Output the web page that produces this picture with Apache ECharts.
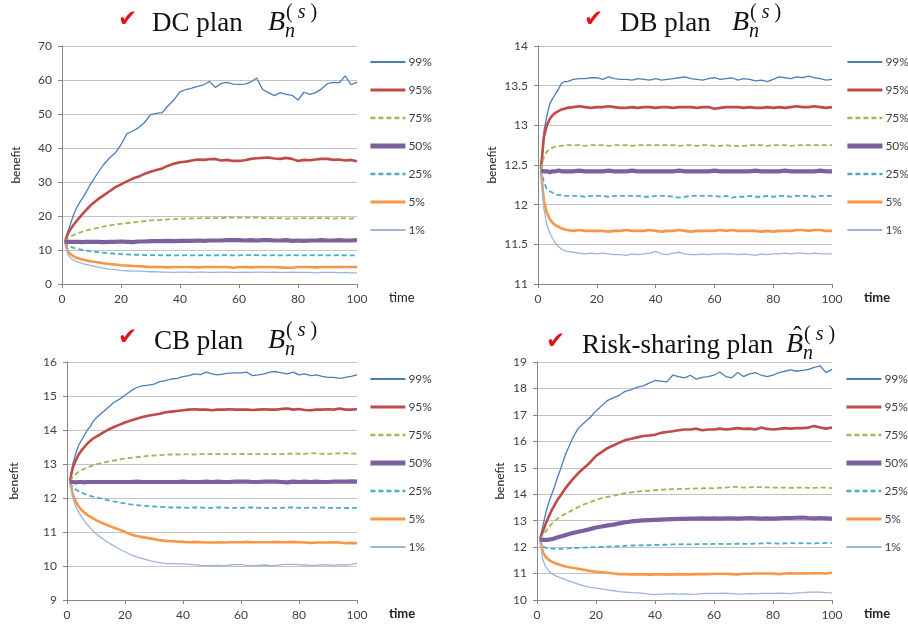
<!DOCTYPE html>
<html>
<head>
<meta charset="utf-8">
<script src="https://cdn.jsdelivr.net/npm/echarts@6/dist/echarts.min.js"></script>
<style>
  html, body { margin: 0; padding: 0; background: #fff; }
  #chart { width: 908px; height: 628px; }
</style>
</head>
<body>
<div id="chart"></div>
<script>
// time steps (yearly up to 10, then every 2)
const time = [1,2,3,4,5,6,7,8,9,10,12,14,16,18,20,22,24,26,28,30,32,34,36,38,40,42,44,46,48,50,
  52,54,56,58,60,62,64,66,68,70,72,74,76,78,80,82,84,86,88,90,92,94,96,98,100];

const pctNames = ["99%", "95%", "75%", "50%", "25%", "5%", "1%"];

// DC plan
const dc99 = [12.4,15.5,18,20.5,22.5,24,25.3,26.8,28.3,29.8,
  32.5,35,37,38.5,41,44.2,45,46,47.5,49.8,
  50.2,50.4,52.5,54.2,56.5,57.2,57.6,58.1,58.6,59.6,
  57.8,59,59.3,58.8,58.7,58.8,59.4,60.6,57.2,56.3,
  55.4,56.3,55.8,55.5,54.1,56.4,55.8,56.3,57.4,58.9,
  59.3,59.2,61.2,58.6,59.4];
const dc95 = [12.4,14.8,16.3,17.5,18.6,19.6,20.6,21.6,22.5,23.4,
  24.8,26,27.2,28.4,29.3,30.2,31,31.6,32.4,33,
  33.5,34,34.8,35.4,35.8,36,36.3,36.6,36.5,36.7,
  36.8,36.3,36.5,36.2,36.2,36.4,36.8,37,37.1,37.2,
  36.9,36.8,37.1,36.8,36.2,36.5,36.4,36.6,36.8,36.8,
  36.5,36.6,36.3,36.5,36.1];
const dc75 = [12.6,13.5,14,14.4,14.8,15.1,15.4,15.7,15.9,16.1,
  16.5,16.9,17.2,17.5,17.7,17.9,18.1,18.3,18.5,18.7,
  18.8,18.9,19,19.1,19.2,19.2,19.3,19.3,19.4,19.4,
  19.4,19.4,19.5,19.5,19.5,19.5,19.5,19.5,19.4,19.4,
  19.3,19.4,19.2,19.3,19.3,19.4,19.3,19.4,19.4,19.4,
  19.2,19.4,19.3,19.2,19.5];
const dc50 = [12.5,12.4,12.4,12.4,12.4,12.4,12.3,12.4,12.4,12.4,
  12.4,12.3,12.4,12.4,12.5,12.4,12.3,12.5,12.5,12.6,
  12.6,12.6,12.7,12.6,12.7,12.7,12.7,12.8,12.7,12.8,
  12.8,12.8,12.9,12.9,12.9,12.8,12.9,12.8,12.9,12.9,
  12.8,12.8,12.9,12.7,12.8,12.7,12.8,12.8,12.9,12.8,
  12.8,12.9,12.8,12.8,12.9];
const dc25 = [12.4,11.2,10.9,10.6,10.4,10.2,10,9.9,9.7,9.6,
  9.4,9.2,9,8.9,8.8,8.7,8.6,8.6,8.5,8.5,
  8.5,8.4,8.5,8.4,8.4,8.5,8.4,8.4,8.5,8.4,
  8.4,8.5,8.5,8.4,8.4,8.5,8.5,8.5,8.4,8.4,
  8.5,8.4,8.4,8.5,8.4,8.4,8.5,8.4,8.5,8.4,
  8.4,8.5,8.4,8.4,8.4];
const dc5 = [12.4,9.6,8.7,8.1,7.7,7.4,7.2,7,6.8,6.6,
  6.4,6.1,5.9,5.7,5.5,5.4,5.3,5.2,5.1,5,
  5,5,4.9,5,5,5,5,4.9,5,5,
  5,5,5,4.8,5,5,4.9,5,5,5,
  5,4.9,4.8,4.8,5,5,5,4.9,5,5,
  5,5,5,5,5];
const dc1 = [12.4,8.6,7.6,7,6.6,6.3,6,5.8,5.6,5.4,
  5,4.7,4.4,4.2,4,3.9,3.8,3.8,3.7,3.6,
  3.6,3.5,3.5,3.4,3.5,3.5,3.4,3.5,3.5,3.4,
  3.4,3.5,3.5,3.4,3.4,3.5,3.4,3.5,3.5,3.4,
  3.5,3.4,3.4,3.5,3.4,3.4,3.4,3.3,3.4,3.4,
  3.4,3.3,3.4,3.3,3.3];

// DB plan
const db99 = [12.45,12.92,13.12,13.27,13.34,13.4,13.46,13.53,13.55,13.55,
  13.58,13.59,13.59,13.6,13.6,13.58,13.61,13.59,13.58,13.58,
  13.57,13.59,13.58,13.57,13.59,13.57,13.58,13.59,13.6,13.61,
  13.59,13.58,13.57,13.59,13.6,13.58,13.59,13.6,13.57,13.59,
  13.58,13.56,13.57,13.55,13.58,13.61,13.6,13.59,13.61,13.6,
  13.62,13.6,13.59,13.57,13.58];
const db95 = [12.45,12.85,13,13.08,13.13,13.16,13.18,13.2,13.21,13.22,
  13.23,13.24,13.23,13.22,13.23,13.23,13.24,13.23,13.22,13.22,
  13.23,13.22,13.23,13.23,13.22,13.23,13.23,13.22,13.23,13.23,
  13.23,13.22,13.23,13.23,13.21,13.22,13.23,13.23,13.23,13.22,
  13.23,13.22,13.22,13.23,13.22,13.23,13.22,13.23,13.24,13.23,
  13.23,13.24,13.23,13.22,13.23];
const db75 = [12.45,12.6,12.67,12.7,12.72,12.73,12.74,12.74,12.75,12.75,
  12.75,12.75,12.74,12.75,12.75,12.75,12.74,12.75,12.75,12.75,
  12.74,12.75,12.75,12.75,12.75,12.75,12.75,12.75,12.74,12.75,
  12.75,12.74,12.75,12.75,12.74,12.74,12.75,12.74,12.74,12.74,
  12.75,12.75,12.75,12.74,12.75,12.75,12.75,12.74,12.75,12.75,
  12.75,12.75,12.75,12.75,12.75];
const db50 = [12.43,12.42,12.42,12.41,12.42,12.42,12.43,12.42,12.42,12.42,
  12.42,12.43,12.42,12.42,12.42,12.42,12.43,12.42,12.42,12.42,
  12.43,12.42,12.42,12.42,12.42,12.42,12.42,12.42,12.43,12.42,
  12.42,12.42,12.42,12.42,12.43,12.42,12.42,12.42,12.42,12.42,
  12.42,12.43,12.42,12.42,12.42,12.42,12.43,12.42,12.42,12.42,
  12.42,12.42,12.43,12.42,12.42];
const db25 = [12.45,12.28,12.2,12.17,12.15,12.13,12.12,12.12,12.11,12.11,
  12.11,12.11,12.1,12.11,12.11,12.11,12.1,12.11,12.11,12.11,
  12.11,12.11,12.1,12.1,12.11,12.11,12.11,12.1,12.09,12.1,
  12.11,12.11,12.11,12.11,12.11,12.1,12.11,12.09,12.1,12.1,
  12.11,12.1,12.1,12.11,12.1,12.11,12.11,12.1,12.11,12.11,
  12.11,12.1,12.11,12.11,12.11];
const db5 = [12.42,12.05,11.9,11.82,11.77,11.74,11.72,11.7,11.69,11.68,
  11.67,11.68,11.67,11.67,11.67,11.67,11.66,11.67,11.67,11.68,
  11.67,11.67,11.67,11.68,11.67,11.66,11.67,11.67,11.68,11.67,
  11.66,11.67,11.67,11.67,11.67,11.68,11.67,11.68,11.67,11.67,
  11.67,11.67,11.66,11.67,11.66,11.67,11.67,11.67,11.68,11.68,
  11.67,11.68,11.68,11.67,11.67];
const db1 = [12.42,11.95,11.75,11.64,11.57,11.51,11.47,11.44,11.42,11.41,
  11.4,11.39,11.38,11.39,11.38,11.39,11.38,11.37,11.37,11.36,
  11.38,11.37,11.38,11.39,11.41,11.38,11.37,11.39,11.4,11.38,
  11.37,11.37,11.38,11.37,11.38,11.38,11.38,11.38,11.37,11.38,
  11.37,11.36,11.38,11.37,11.38,11.38,11.39,11.38,11.39,11.39,
  11.38,11.39,11.38,11.38,11.38];

// CB plan
const cb99 = [12.5,13,13.3,13.55,13.7,13.85,14,14.1,14.25,14.35,
  14.5,14.65,14.8,14.9,15.02,15.15,15.25,15.3,15.32,15.35,
  15.42,15.45,15.5,15.52,15.57,15.6,15.65,15.63,15.7,15.65,
  15.62,15.65,15.67,15.68,15.68,15.7,15.6,15.62,15.65,15.7,
  15.72,15.68,15.65,15.7,15.62,15.65,15.6,15.62,15.58,15.55,
  15.55,15.52,15.55,15.58,15.62];
const cb95 = [12.5,12.9,13.1,13.28,13.4,13.5,13.6,13.68,13.75,13.8,
  13.9,14,14.08,14.15,14.22,14.28,14.33,14.38,14.42,14.45,
  14.48,14.52,14.54,14.56,14.58,14.6,14.61,14.6,14.6,14.58,
  14.6,14.6,14.61,14.6,14.6,14.6,14.59,14.6,14.61,14.6,
  14.6,14.62,14.63,14.6,14.62,14.59,14.58,14.6,14.6,14.61,
  14.6,14.63,14.6,14.6,14.61];
const cb75 = [12.5,12.62,12.7,12.77,12.82,12.86,12.9,12.93,12.96,12.99,
  13.03,13.07,13.1,13.13,13.16,13.18,13.2,13.22,13.24,13.25,
  13.26,13.27,13.28,13.28,13.28,13.29,13.28,13.29,13.29,13.3,
  13.29,13.3,13.3,13.3,13.3,13.29,13.29,13.3,13.3,13.29,
  13.3,13.3,13.3,13.31,13.3,13.3,13.32,13.31,13.3,13.3,
  13.31,13.31,13.32,13.31,13.3];
const cb50 = [12.48,12.47,12.46,12.47,12.47,12.46,12.47,12.47,12.47,12.47,
  12.47,12.47,12.47,12.47,12.47,12.47,12.48,12.47,12.47,12.47,
  12.47,12.47,12.47,12.47,12.48,12.47,12.47,12.47,12.48,12.47,
  12.48,12.47,12.47,12.48,12.48,12.48,12.47,12.47,12.48,12.48,
  12.48,12.47,12.46,12.48,12.47,12.48,12.47,12.48,12.47,12.47,
  12.48,12.48,12.48,12.49,12.48];
const cb25 = [12.45,12.32,12.25,12.2,12.16,12.12,12.09,12.06,12.04,12.02,
  11.98,11.94,11.9,11.87,11.84,11.81,11.79,11.77,11.76,11.75,
  11.74,11.73,11.72,11.72,11.72,11.71,11.72,11.72,11.71,11.71,
  11.72,11.72,11.71,11.71,11.71,11.72,11.72,11.71,11.71,11.7,
  11.71,11.71,11.72,11.72,11.71,11.71,11.72,11.71,11.72,11.71,
  11.71,11.71,11.7,11.71,11.71];
const cb5 = [12.5,12.1,11.9,11.75,11.65,11.57,11.5,11.45,11.4,11.35,
  11.27,11.2,11.13,11.07,11,10.93,10.88,10.85,10.82,10.79,
  10.76,10.74,10.73,10.72,10.71,10.7,10.71,10.7,10.69,10.69,
  10.7,10.69,10.7,10.7,10.7,10.71,10.7,10.7,10.7,10.7,
  10.71,10.7,10.7,10.71,10.7,10.69,10.68,10.69,10.69,10.69,
  10.7,10.69,10.67,10.68,10.67];
const cb1 = [12.5,12,11.75,11.58,11.45,11.33,11.22,11.12,11.03,10.95,
  10.82,10.7,10.6,10.5,10.42,10.33,10.27,10.22,10.17,10.13,
  10.1,10.07,10.07,10.06,10.06,10.05,10.04,10.02,10.01,10.01,
  10.02,10,10.03,10.04,10.04,10.02,10.01,10.02,10.03,10.01,
  10.02,10.04,10.05,10.05,10.04,10.03,10.02,10.02,10.04,10.03,
  10.02,10.04,10.03,10.05,10.08];

// Risk-sharing plan
const rs99 = [12.3,12.8,13.3,13.7,14,14.3,14.65,14.95,15.3,15.6,
  16.1,16.5,16.7,16.9,17.15,17.35,17.55,17.65,17.75,17.9,
  17.95,18.05,18.1,18.2,18.3,18.28,18.25,18.5,18.45,18.4,
  18.5,18.35,18.42,18.45,18.5,18.62,18.45,18.4,18.6,18.45,
  18.55,18.6,18.5,18.45,18.5,18.6,18.65,18.7,18.65,18.68,
  18.72,18.8,18.85,18.6,18.72];
const rs95 = [12.3,12.6,12.9,13.15,13.4,13.6,13.8,13.95,14.12,14.28,
  14.55,14.8,15,15.2,15.45,15.6,15.75,15.85,15.95,16.05,
  16.1,16.15,16.2,16.22,16.25,16.32,16.35,16.38,16.42,16.45,
  16.45,16.48,16.42,16.45,16.45,16.48,16.45,16.47,16.5,16.47,
  16.48,16.45,16.52,16.47,16.45,16.47,16.5,16.48,16.5,16.5,
  16.52,16.58,16.52,16.48,16.52];
const rs75 = [12.3,12.45,12.6,12.75,12.88,12.98,13.08,13.15,13.22,13.28,
  13.4,13.52,13.62,13.7,13.78,13.85,13.9,13.95,14,14.04,
  14.07,14.1,14.12,14.13,14.15,14.17,14.18,14.19,14.2,14.2,
  14.21,14.22,14.22,14.23,14.22,14.24,14.25,14.28,14.27,14.25,
  14.26,14.27,14.27,14.26,14.25,14.25,14.25,14.24,14.25,14.25,
  14.24,14.24,14.25,14.25,14.23];
const rs50 = [12.3,12.27,12.27,12.28,12.3,12.33,12.37,12.4,12.43,12.47,
  12.53,12.58,12.63,12.68,12.74,12.78,12.82,12.85,12.9,12.94,
  12.97,12.99,13.01,13.02,13.03,13.04,13.05,13.06,13.07,13.07,
  13.08,13.08,13.09,13.08,13.09,13.08,13.09,13.09,13.08,13.09,
  13.1,13.09,13.08,13.09,13.08,13.09,13.1,13.1,13.11,13.12,
  13.1,13.09,13.1,13.09,13.08];
const rs25 = [12.3,12.02,11.97,11.95,11.94,11.94,11.93,11.93,11.94,11.95,
  11.96,11.97,11.98,11.99,12,12.01,12.02,12.03,12.04,12.05,
  12.06,12.06,12.07,12.07,12.08,12.09,12.09,12.1,12.1,12.11,
  12.1,12.11,12.12,12.11,12.12,12.12,12.11,12.12,12.13,12.12,
  12.12,12.13,12.14,12.15,12.14,12.13,12.14,12.15,12.14,12.15,
  12.14,12.14,12.15,12.16,12.15];
const rs5 = [12.3,11.8,11.62,11.52,11.45,11.4,11.36,11.32,11.29,11.26,
  11.22,11.18,11.14,11.1,11.07,11.05,11.03,11,10.98,10.98,
  10.97,10.97,10.97,10.96,10.97,10.97,10.96,10.97,10.98,10.97,
  10.97,10.98,10.98,10.98,10.99,10.99,10.99,10.98,10.97,10.99,
  10.99,11,11,11,11,10.98,11,11.01,11,11.01,
  11,11.01,11.01,11,11.03];
const rs1 = [12.3,11.5,11.25,11.1,11,10.93,10.88,10.84,10.8,10.75,
  10.68,10.6,10.53,10.48,10.45,10.42,10.38,10.35,10.32,10.3,
  10.28,10.27,10.25,10.22,10.2,10.22,10.22,10.24,10.22,10.23,
  10.21,10.22,10.24,10.25,10.25,10.25,10.26,10.24,10.22,10.22,
  10.24,10.23,10.25,10.25,10.25,10.26,10.25,10.24,10.27,10.28,
  10.3,10.3,10.3,10.28,10.27];

const FONT = 'Lato, "Liberation Sans", sans-serif';
const SERIF = '"Liberation Serif", "DejaVu Serif", serif';

// one style per percentile
const styles = [
  { color: "#4a7ebb", width: 1.3, type: "solid" },
  { color: "#be4b48", width: 2.6, type: "solid" },
  { color: "#98b954", width: 1.8, type: [5, 3] },
  { color: "#7d60a0", width: 4.2, type: "solid" },
  { color: "#4bacc6", width: 1.8, type: [5, 3] },
  { color: "#f79646", width: 2.6, type: "solid" },
  { color: "#9db4da", width: 1.3, type: "solid" }
];

const panels = [
  { label: "DC plan", values: [dc99, dc95, dc75, dc50, dc25, dc5, dc1],
    grid: { left: 62, top: 46, width: 295, height: 238 },
    y: [0, 70, 10], nameGap: 40, boldTime: false,
    legend: [368, 56], head: [118, 152, 268, 31], hat: false },
  { label: "DB plan", values: [db99, db95, db75, db50, db25, db5, db1],
    grid: { left: 538, top: 46, width: 294, height: 238 },
    y: [11, 14, 0.5], nameGap: 40, boldTime: true,
    legend: [845, 56], head: [584, 620, 732, 31], hat: false },
  { label: "CB plan", values: [cb99, cb95, cb75, cb50, cb25, cb5, cb1],
    grid: { left: 67, top: 362, width: 290, height: 238 },
    y: [9, 16, 1], nameGap: 47, boldTime: true,
    legend: [368, 373], head: [118, 154, 268, 349], hat: false },
  { label: "Risk-sharing plan", values: [rs99, rs95, rs75, rs50, rs25, rs5, rs1],
    grid: { left: 537, top: 362, width: 295, height: 238 },
    y: [10, 19, 1], nameGap: 31, boldTime: true,
    legend: [844, 373], head: [546, 582, 786, 353], hat: true }
];

function heading(p) {
  const [cx, tx, bx, base] = p.head;
  const els = [
    { type: "text", x: cx, y: base - 11,
      style: { text: "\u2714", font: '23px "DejaVu Sans"', fill: "#e3141c", textVerticalAlign: "middle" } },
    { type: "text", x: tx, y: base + 6,
      style: { text: p.label, font: "27px " + SERIF, fill: "#111", textVerticalAlign: "bottom" } },
    { type: "text", x: bx, y: base + 6,
      style: { text: "B", font: "italic 28px " + SERIF, fill: "#111", textVerticalAlign: "bottom" } },
    { type: "text", x: bx + 17, y: base + 11,
      style: { text: "n", font: "italic 20px " + SERIF, fill: "#111", textVerticalAlign: "bottom" } },
    { type: "text", x: bx + 18, y: base - 8,
      style: { text: "( {i|s} )", font: "20px " + SERIF, fill: "#111", textVerticalAlign: "bottom",
        rich: { i: { fontStyle: "italic", fontSize: 20, fontFamily: SERIF, fill: "#111" } } } }
  ];
  if (p.hat) {
    els.push({ type: "text", x: bx + 7, y: base - 3,
      style: { text: "\u02C6", font: "26px " + SERIF, fill: "#111", textVerticalAlign: "bottom" } });
  }
  return els;
}

const series = [];
panels.forEach((p, i) => {
  p.values.forEach((vals, k) => {
    series.push({
      type: "line",
      name: pctNames[k],
      xAxisIndex: i,
      yAxisIndex: i,
      symbol: "none",
      showSymbol: false,
      data: time.map((t, j) => [t, vals[j]]),
      lineStyle: styles[k],
      itemStyle: { color: styles[k].color },
      z: 2 + (k === 3 ? 1 : 0)
    });
  });
});

const chart = echarts.init(document.getElementById("chart"), null, { renderer: "canvas" });
chart.setOption({
  animation: false,
  backgroundColor: "#fff",
  textStyle: { fontFamily: FONT },
  grid: panels.map(p => p.grid),
  xAxis: panels.map((p, i) => ({
    type: "value",
    gridIndex: i,
    min: 0,
    max: 100,
    interval: 20,
    name: "time",
    nameLocation: "end",
    nameGap: 32,
    nameTextStyle: {
      fontSize: 13, color: "#222", fontWeight: p.boldTime ? "bold" : "normal",
      verticalAlign: "top", padding: [7, 0, 0, 0]
    },
    axisLine: { lineStyle: { color: "#868686" } },
    axisTick: { length: 4, lineStyle: { color: "#868686" } },
    axisLabel: { fontSize: 12, color: "#404040", margin: 9 },
    splitLine: { show: false }
  })),
  yAxis: panels.map((p, i) => ({
    type: "value",
    gridIndex: i,
    min: p.y[0],
    max: p.y[1],
    interval: p.y[2],
    name: "benefit",
    nameLocation: "middle",
    nameGap: p.nameGap,
    nameTextStyle: { fontSize: 12, color: "#222" },
    axisLine: { show: true, lineStyle: { color: "#868686" } },
    axisTick: { show: true, length: 4, lineStyle: { color: "#868686" } },
    axisLabel: { fontSize: 12, color: "#404040", margin: 10 },
    splitLine: { lineStyle: { color: "#c4c4c4" } }
  })),
  legend: panels.map(p => ({
    left: p.legend[0],
    top: p.legend[1],
    orient: "vertical",
    padding: 0,
    itemWidth: 35,
    itemHeight: 14,
    itemGap: 16,
    selectedMode: false,
    itemStyle: { opacity: 0 },
    data: pctNames.map((n, k) => ({
      name: n,
      lineStyle: { width: styles[k].width + 0.6, type: styles[k].type, color: styles[k].color }
    })),
    textStyle: { fontSize: 12, color: "#404040", padding: [0, 0, 0, -2] }
  })),
  graphic: panels.flatMap(heading),
  series: series
});
</script>
</body>
</html>
